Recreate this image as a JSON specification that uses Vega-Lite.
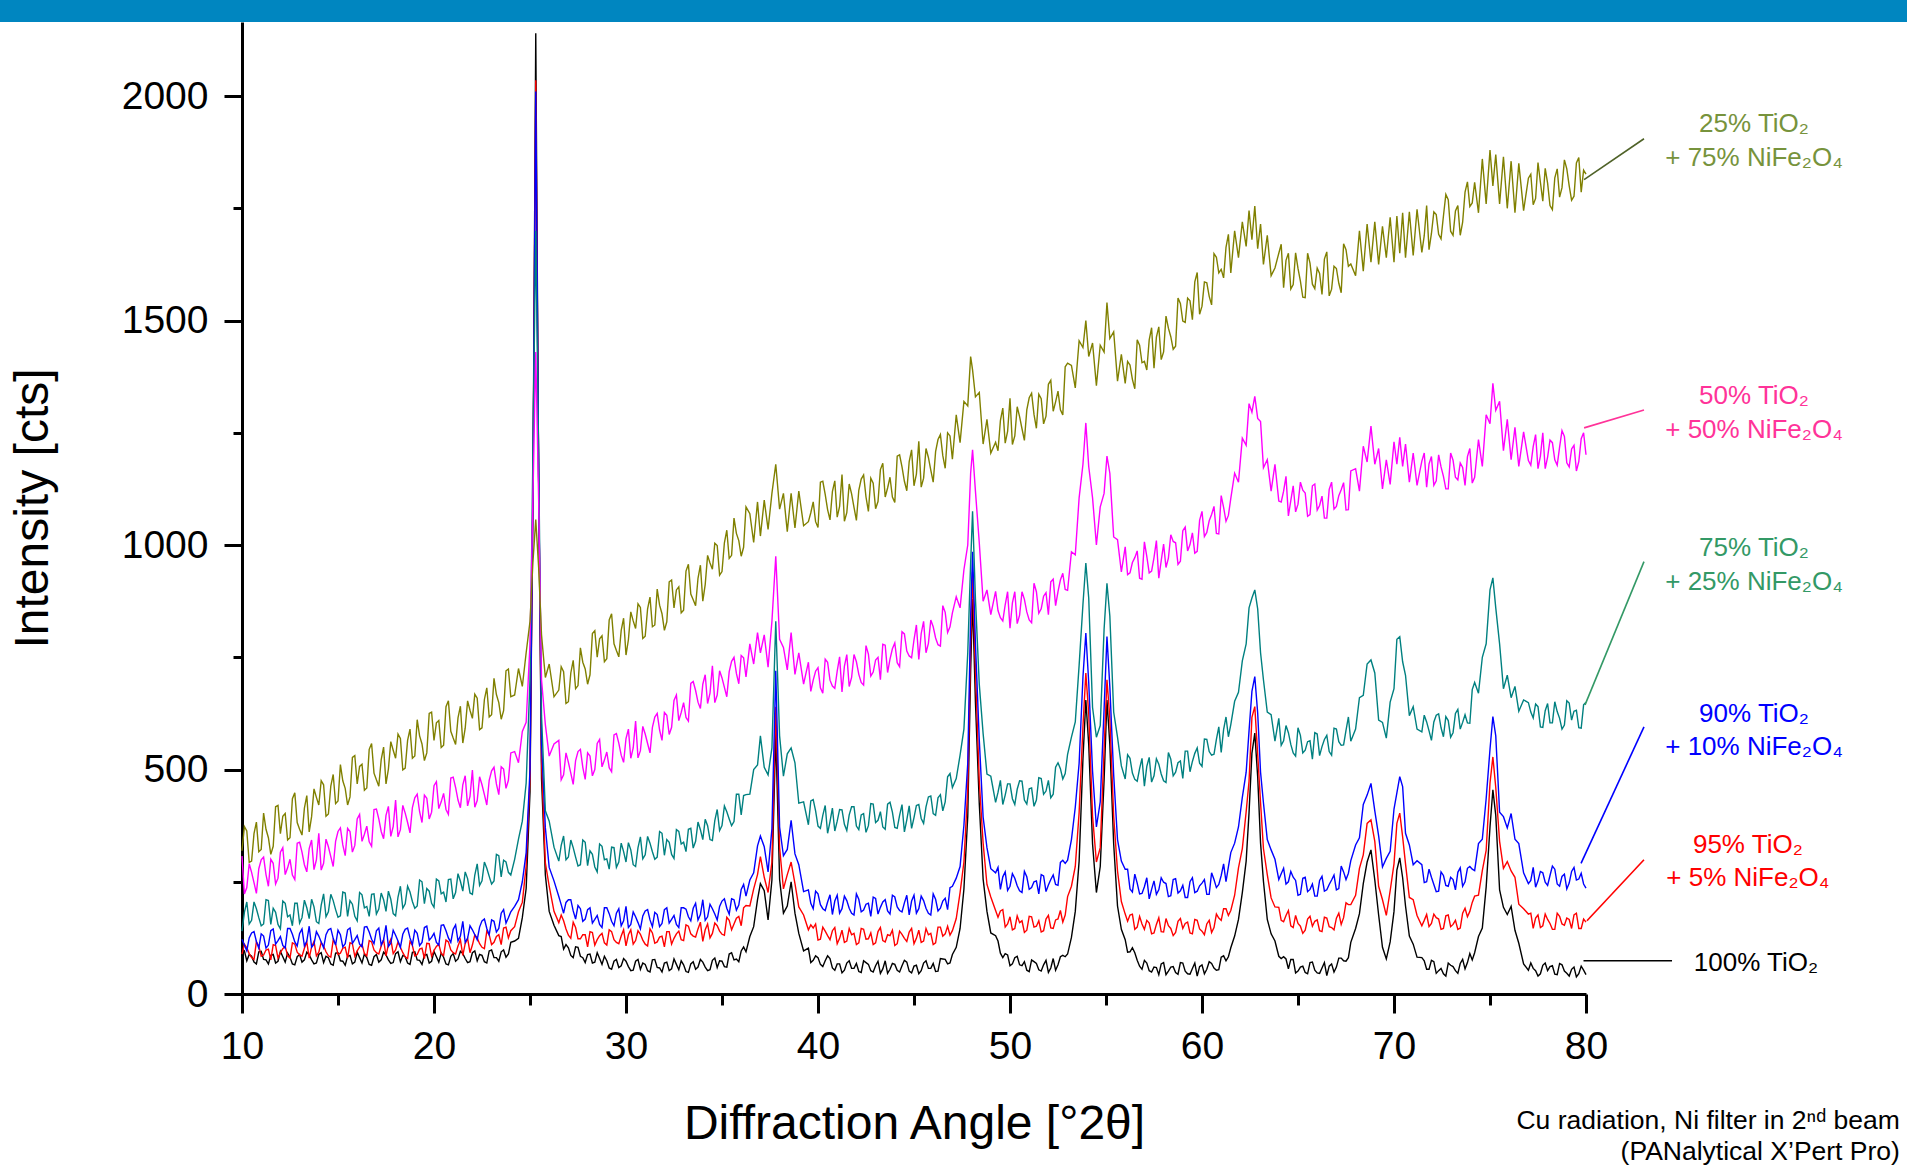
{
"$schema": "https://vega.github.io/schema/vega-lite/v6.json",
"width": 1344,
"height": 972,
"autosize": {"type": "none"},
"padding": {"left": 242, "top": 22, "right": 321, "bottom": 174},
"background": "white",
"config": {
  "view": {"stroke": null},
  "font": "Liberation Sans",
  "axis": {"domainColor": "#000000", "domainWidth": 3, "tickColor": "#000000", "tickWidth": 3, "labelFont": "Liberation Sans", "labelFontSize": 39, "labelColor": "#000000", "titleFont": "Liberation Sans", "titleFontSize": 48, "titleFontWeight": "normal", "titleColor": "#000000", "grid": false, "labelFlush": false, "labelOverlap": false}
},
"datasets": {
"xrd": [
{"x":10,"k":92,"r":89,"b":122,"t":140,"m":307,"o":319},
{"x":10.25,"k":74,"r":103,"b":96,"t":205,"m":237,"o":363},
{"x":10.5,"k":84,"r":81,"b":136,"t":164,"m":271,"o":296},
{"x":10.75,"k":67,"r":116,"b":117,"t":190,"m":224,"o":383},
{"x":11,"k":95,"r":84,"b":134,"t":152,"m":299,"o":322},
{"x":11.25,"k":76,"r":98,"b":102,"t":210,"m":266,"o":367},
{"x":11.5,"k":86,"r":76,"b":141,"t":155,"m":300,"o":311},
{"x":11.75,"k":69,"r":108,"b":111,"t":182,"m":245,"o":417},
{"x":12,"k":95,"r":92,"b":128,"t":145,"m":316,"o":357},
{"x":12.25,"k":71,"r":106,"b":102,"t":202,"m":266,"o":402},
{"x":12.5,"k":82,"r":80,"b":146,"t":176,"m":300,"o":348},
{"x":12.75,"k":65,"r":111,"b":116,"t":202,"m":255,"o":448},
{"x":13,"k":88,"r":87,"b":135,"t":158,"m":338,"o":367},
{"x":13.25,"k":76,"r":102,"b":107,"t":209,"m":288,"o":414},
{"x":13.5,"k":87,"r":80,"b":151,"t":168,"m":324,"o":361},
{"x":13.75,"k":67,"r":117,"b":111,"t":194,"m":277,"o":457},
{"x":14,"k":88,"r":93,"b":129,"t":157,"m":358,"o":421},
{"x":14.25,"k":70,"r":107,"b":103,"t":223,"m":291,"o":466},
{"x":14.5,"k":81,"r":85,"b":143,"t":183,"m":328,"o":401},
{"x":14.75,"k":64,"r":120,"b":124,"t":208,"m":284,"o":489},
{"x":15,"k":92,"r":88,"b":142,"t":171,"m":362,"o":430},
{"x":15.25,"k":73,"r":102,"b":105,"t":227,"m":332,"o":475},
{"x":15.5,"k":84,"r":80,"b":143,"t":173,"m":369,"o":421},
{"x":15.75,"k":67,"r":112,"b":113,"t":200,"m":316,"o":527},
{"x":16,"k":93,"r":96,"b":130,"t":163,"m":390,"o":468},
{"x":16.25,"k":69,"r":111,"b":105,"t":221,"m":340,"o":512},
{"x":16.5,"k":81,"r":85,"b":150,"t":195,"m":374,"o":459},
{"x":16.75,"k":64,"r":116,"b":122,"t":222,"m":329,"o":558},
{"x":17,"k":88,"r":92,"b":141,"t":178,"m":412,"o":477},
{"x":17.25,"k":76,"r":107,"b":109,"t":225,"m":362,"o":522},
{"x":17.5,"k":87,"r":85,"b":153,"t":184,"m":398,"o":468},
{"x":17.75,"k":68,"r":122,"b":113,"t":211,"m":351,"o":562},
{"x":18,"k":90,"r":98,"b":131,"t":174,"m":432,"o":525},
{"x":18.25,"k":72,"r":104,"b":104,"t":240,"m":366,"o":569},
{"x":18.5,"k":83,"r":83,"b":144,"t":201,"m":403,"o":503},
{"x":18.75,"k":66,"r":117,"b":125,"t":227,"m":359,"o":590},
{"x":19,"k":94,"r":85,"b":142,"t":191,"m":437,"o":530},
{"x":19.25,"k":75,"r":100,"b":108,"t":254,"m":406,"o":575},
{"x":19.5,"k":86,"r":79,"b":148,"t":201,"m":443,"o":520},
{"x":19.75,"k":69,"r":112,"b":120,"t":229,"m":390,"o":625},
{"x":20,"k":95,"r":97,"b":135,"t":193,"m":464,"o":565},
{"x":20.25,"k":71,"r":111,"b":109,"t":252,"m":413,"o":609},
{"x":20.5,"k":82,"r":86,"b":154,"t":227,"m":447,"o":554},
{"x":20.75,"k":65,"r":116,"b":125,"t":255,"m":400,"o":653},
{"x":21,"k":90,"r":92,"b":144,"t":212,"m":483,"o":570},
{"x":21.25,"k":78,"r":107,"b":118,"t":268,"m":432,"o":615},
{"x":21.5,"k":90,"r":86,"b":162,"t":229,"m":466,"o":559},
{"x":21.75,"k":70,"r":124,"b":124,"t":257,"m":419,"o":653},
{"x":22,"k":92,"r":109,"b":143,"t":222,"m":499,"o":614},
{"x":22.25,"k":74,"r":125,"b":121,"t":290,"m":431,"o":659},
{"x":22.5,"k":86,"r":104,"b":163,"t":252,"m":466,"o":593},
{"x":22.75,"k":69,"r":140,"b":146,"t":280,"m":421,"o":682},
{"x":23,"k":98,"r":110,"b":165,"t":245,"m":497,"o":622},
{"x":23.25,"k":81,"r":128,"b":138,"t":311,"m":468,"o":667},
{"x":23.5,"k":94,"r":110,"b":180,"t":261,"m":506,"o":612},
{"x":23.75,"k":82,"r":149,"b":158,"t":294,"m":458,"o":720},
{"x":24,"k":115,"r":141,"b":183,"t":265,"m":537,"o":662},
{"x":24.2,"k":118,"r":150,"b":195,"t":300,"m":540,"o":666},
{"x":24.4,"k":124,"r":183,"b":210,"t":345,"m":515,"o":725},
{"x":24.6,"k":170,"r":204,"b":250,"t":385,"m":585,"o":685},
{"x":24.8,"k":235,"r":285,"b":315,"t":470,"m":605,"o":760},
{"x":25,"k":450,"r":480,"b":500,"t":700,"m":780,"o":830},
{"x":25.15,"k":1100,"r":1100,"b":1100,"t":1200,"m":1100,"o":960},
{"x":25.3,"k":2140,"r":2035,"b":2010,"t":1700,"m":1430,"o":1057},
{"x":25.45,"k":1150,"r":1150,"b":1150,"t":1200,"m":1100,"o":950},
{"x":25.6,"k":480,"r":520,"b":560,"t":620,"m":700,"o":800},
{"x":25.8,"k":265,"r":292,"b":370,"t":408,"m":600,"o":705},
{"x":26,"k":184,"r":240,"b":282,"t":385,"m":530,"o":735},
{"x":26.25,"k":153,"r":184,"b":252,"t":327,"m":557,"o":662},
{"x":26.5,"k":130,"r":159,"b":217,"t":296,"m":565,"o":677},
{"x":26.75,"k":100,"r":163,"b":180,"t":352,"m":488,"o":718},
{"x":27,"k":103,"r":131,"b":210,"t":305,"m":516,"o":651},
{"x":27.25,"k":81,"r":160,"b":185,"t":326,"m":467,"o":743},
{"x":27.5,"k":104,"r":123,"b":197,"t":285,"m":540,"o":687},
{"x":27.75,"k":81,"r":132,"b":162,"t":343,"m":505,"o":739},
{"x":28,"k":88,"r":105,"b":188,"t":286,"m":537,"o":690},
{"x":28.25,"k":69,"r":137,"b":158,"t":311,"m":486,"o":803},
{"x":28.5,"k":92,"r":121,"b":175,"t":272,"m":558,"o":750},
{"x":28.75,"k":66,"r":135,"b":148,"t":329,"m":506,"o":798},
{"x":29,"k":74,"r":109,"b":192,"t":301,"m":539,"o":747},
{"x":29.25,"k":55,"r":139,"b":162,"t":327,"m":495,"o":847},
{"x":29.5,"k":77,"r":115,"b":180,"t":282,"m":580,"o":765},
{"x":29.75,"k":63,"r":129,"b":152,"t":336,"m":532,"o":810},
{"x":30,"k":73,"r":107,"b":195,"t":294,"m":569,"o":755},
{"x":30.25,"k":52,"r":143,"b":155,"t":321,"m":525,"o":851},
{"x":30.5,"k":73,"r":119,"b":172,"t":284,"m":608,"o":814},
{"x":30.75,"k":55,"r":133,"b":145,"t":350,"m":542,"o":861},
{"x":31,"k":66,"r":111,"b":185,"t":310,"m":579,"o":797},
{"x":31.25,"k":49,"r":145,"b":165,"t":336,"m":537,"o":884},
{"x":31.5,"k":77,"r":113,"b":182,"t":300,"m":617,"o":822},
{"x":31.75,"k":58,"r":127,"b":150,"t":362,"m":588,"o":866},
{"x":32,"k":69,"r":105,"b":188,"t":309,"m":627,"o":810},
{"x":32.25,"k":52,"r":139,"b":158,"t":338,"m":578,"o":918},
{"x":32.5,"k":78,"r":124,"b":175,"t":302,"m":654,"o":860},
{"x":32.75,"k":54,"r":140,"b":148,"t":362,"m":609,"o":907},
{"x":33,"k":65,"r":119,"b":192,"t":338,"m":649,"o":855},
{"x":33.25,"k":48,"r":151,"b":172,"t":367,"m":608,"o":957},
{"x":33.5,"k":72,"r":129,"b":191,"t":325,"m":696,"o":878},
{"x":33.75,"k":60,"r":145,"b":165,"t":383,"m":650,"o":926},
{"x":34,"k":71,"r":117,"b":210,"t":344,"m":690,"o":875},
{"x":34.25,"k":52,"r":156,"b":172,"t":375,"m":647,"o":977},
{"x":34.5,"k":75,"r":135,"b":190,"t":342,"m":731,"o":946},
{"x":34.75,"k":59,"r":152,"b":165,"t":411,"m":666,"o":999},
{"x":35,"k":73,"r":133,"b":207,"t":375,"m":704,"o":941},
{"x":35.25,"k":60,"r":171,"b":191,"t":406,"m":662,"o":1033},
{"x":35.5,"k":92,"r":143,"b":212,"t":375,"m":741,"o":977},
{"x":35.75,"k":78,"r":169,"b":187,"t":445,"m":714,"o":1026},
{"x":36,"k":96,"r":152,"b":233,"t":399,"m":754,"o":975},
{"x":36.25,"k":94,"r":197,"b":218,"t":444,"m":706,"o":1085},
{"x":36.45,"k":128,"r":196,"b":254,"t":445,"m":780,"o":1070},
{"x":36.65,"k":150,"r":234,"b":270,"t":500,"m":735,"o":1006},
{"x":36.85,"k":210,"r":266,"b":330,"t":510,"m":805,"o":1096},
{"x":37,"k":246,"r":306,"b":352,"t":575,"m":760,"o":1020},
{"x":37.2,"k":230,"r":260,"b":328,"t":505,"m":800,"o":1100},
{"x":37.4,"k":165,"r":226,"b":272,"t":488,"m":728,"o":1035},
{"x":37.6,"k":254,"r":294,"b":368,"t":548,"m":830,"o":1115},
{"x":37.8,"k":580,"r":640,"b":720,"t":830,"m":975,"o":1180},
{"x":38,"k":255,"r":326,"b":372,"t":575,"m":790,"o":1080},
{"x":38.2,"k":180,"r":234,"b":308,"t":485,"m":772,"o":1115},
{"x":38.4,"k":196,"r":266,"b":322,"t":535,"m":722,"o":1030},
{"x":38.6,"k":250,"r":294,"b":387,"t":548,"m":805,"o":1115},
{"x":38.8,"k":180,"r":246,"b":312,"t":515,"m":712,"o":1038},
{"x":39,"k":135,"r":194,"b":288,"t":425,"m":760,"o":1120},
{"x":39.25,"k":96,"r":176,"b":228,"t":428,"m":690,"o":1043},
{"x":39.5,"k":102,"r":143,"b":232,"t":377,"m":739,"o":1052},
{"x":39.75,"k":75,"r":147,"b":190,"t":433,"m":699,"o":1096},
{"x":40,"k":81,"r":120,"b":223,"t":374,"m":727,"o":1039},
{"x":40.25,"k":61,"r":149,"b":190,"t":398,"m":670,"o":1142},
{"x":40.5,"k":85,"r":130,"b":205,"t":358,"m":739,"o":1079},
{"x":40.75,"k":58,"r":141,"b":177,"t":414,"m":686,"o":1119},
{"x":41,"k":67,"r":112,"b":220,"t":385,"m":719,"o":1062},
{"x":41.25,"k":47,"r":142,"b":190,"t":410,"m":673,"o":1157},
{"x":41.5,"k":69,"r":118,"b":208,"t":364,"m":756,"o":1072},
{"x":41.75,"k":57,"r":132,"b":180,"t":417,"m":705,"o":1114},
{"x":42,"k":68,"r":110,"b":223,"t":374,"m":740,"o":1055},
{"x":42.25,"k":48,"r":146,"b":183,"t":399,"m":694,"o":1147},
{"x":42.5,"k":70,"r":122,"b":200,"t":360,"m":776,"o":1107},
{"x":42.75,"k":52,"r":136,"b":173,"t":424,"m":708,"o":1149},
{"x":43,"k":63,"r":114,"b":213,"t":382,"m":744,"o":1081},
{"x":43.25,"k":46,"r":148,"b":193,"t":406,"m":700,"o":1168},
{"x":43.5,"k":74,"r":116,"b":210,"t":367,"m":777,"o":1107},
{"x":43.75,"k":55,"r":130,"b":178,"t":427,"m":746,"o":1151},
{"x":44,"k":66,"r":108,"b":216,"t":371,"m":782,"o":1095},
{"x":44.25,"k":49,"r":140,"b":186,"t":398,"m":729,"o":1201},
{"x":44.5,"k":75,"r":124,"b":203,"t":361,"m":802,"o":1142},
{"x":44.75,"k":51,"r":138,"b":176,"t":419,"m":753,"o":1186},
{"x":45,"k":62,"r":112,"b":220,"t":393,"m":789,"o":1132},
{"x":45.25,"k":45,"r":142,"b":190,"t":422,"m":745,"o":1231},
{"x":45.5,"k":69,"r":118,"b":208,"t":380,"m":830,"o":1149},
{"x":45.75,"k":57,"r":132,"b":180,"t":439,"m":781,"o":1195},
{"x":46,"k":68,"r":110,"b":223,"t":402,"m":818,"o":1140},
{"x":46.25,"k":51,"r":149,"b":185,"t":437,"m":778,"o":1235},
{"x":46.5,"k":78,"r":129,"b":207,"t":408,"m":865,"o":1199},
{"x":46.75,"k":67,"r":151,"b":188,"t":484,"m":805,"o":1250},
{"x":47,"k":88,"r":141,"b":240,"t":460,"m":849,"o":1191},
{"x":47.2,"k":104,"r":168,"b":258,"t":480,"m":885,"o":1290},
{"x":47.4,"k":146,"r":226,"b":284,"t":532,"m":860,"o":1228},
{"x":47.6,"k":234,"r":294,"b":376,"t":590,"m":945,"o":1320},
{"x":47.8,"k":396,"r":456,"b":514,"t":760,"m":1000,"o":1310},
{"x":47.95,"k":720,"r":780,"b":840,"t":960,"m":1160,"o":1420},
{"x":48.05,"k":880,"r":940,"b":985,"t":1075,"m":1212,"o":1390},
{"x":48.2,"k":650,"r":720,"b":780,"t":880,"m":1120,"o":1330},
{"x":48.4,"k":424,"r":474,"b":566,"t":690,"m":1005,"o":1340},
{"x":48.6,"k":256,"r":336,"b":394,"t":580,"m":875,"o":1225},
{"x":48.8,"k":184,"r":244,"b":326,"t":490,"m":900,"o":1280},
{"x":49,"k":136,"r":216,"b":279,"t":485,"m":845,"o":1205},
{"x":49.25,"k":130,"r":186,"b":270,"t":427,"m":897,"o":1229},
{"x":49.5,"k":91,"r":185,"b":233,"t":476,"m":838,"o":1277},
{"x":49.75,"k":90,"r":149,"b":272,"t":443,"m":867,"o":1227},
{"x":50,"k":63,"r":172,"b":240,"t":468,"m":815,"o":1327},
{"x":50.25,"k":81,"r":146,"b":258,"t":422,"m":896,"o":1243},
{"x":50.5,"k":65,"r":159,"b":230,"t":475,"m":844,"o":1286},
{"x":50.75,"k":72,"r":137,"b":273,"t":432,"m":879,"o":1233},
{"x":51,"k":50,"r":173,"b":233,"t":457,"m":833,"o":1328},
{"x":51.25,"k":72,"r":149,"b":250,"t":418,"m":915,"o":1291},
{"x":51.5,"k":54,"r":163,"b":223,"t":482,"m":848,"o":1336},
{"x":51.75,"k":65,"r":141,"b":263,"t":445,"m":886,"o":1270},
{"x":52,"k":48,"r":175,"b":243,"t":476,"m":845,"o":1358},
{"x":52.25,"k":79,"r":146,"b":265,"t":445,"m":924,"o":1298},
{"x":52.5,"k":65,"r":167,"b":242,"t":515,"m":896,"o":1343},
{"x":52.75,"k":86,"r":160,"b":298,"t":479,"m":937,"o":1290},
{"x":53,"k":89,"r":217,"b":298,"t":534,"m":899,"o":1405},
{"x":53.2,"k":126,"r":240,"b":344,"t":572,"m":985,"o":1400},
{"x":53.4,"k":184,"r":284,"b":416,"t":606,"m":978,"o":1350},
{"x":53.6,"k":296,"r":404,"b":514,"t":732,"m":1105,"o":1455},
{"x":53.8,"k":524,"r":596,"b":706,"t":868,"m":1180,"o":1440},
{"x":53.95,"k":655,"r":715,"b":804,"t":960,"m":1272,"o":1500},
{"x":54.1,"k":556,"r":624,"b":694,"t":882,"m":1175,"o":1420},
{"x":54.3,"k":334,"r":396,"b":496,"t":638,"m":1105,"o":1450},
{"x":54.5,"k":226,"r":294,"b":372,"t":572,"m":1000,"o":1355},
{"x":54.7,"k":284,"r":326,"b":428,"t":598,"m":1085,"o":1445},
{"x":54.9,"k":476,"r":544,"b":634,"t":812,"m":1115,"o":1430},
{"x":55.05,"k":655,"r":700,"b":796,"t":915,"m":1198,"o":1540},
{"x":55.2,"k":556,"r":614,"b":684,"t":842,"m":1160,"o":1460},
{"x":55.4,"k":334,"r":396,"b":488,"t":628,"m":1018,"o":1475},
{"x":55.6,"k":196,"r":274,"b":344,"t":572,"m":1012,"o":1365},
{"x":55.8,"k":144,"r":206,"b":296,"t":508,"m":940,"o":1425},
{"x":56,"k":121,"r":178,"b":278,"t":479,"m":996,"o":1360},
{"x":56.25,"k":94,"r":176,"b":234,"t":525,"m":938,"o":1401},
{"x":56.5,"k":92,"r":144,"b":267,"t":478,"m":972,"o":1348},
{"x":56.75,"k":62,"r":173,"b":223,"t":502,"m":926,"o":1445},
{"x":57,"k":75,"r":144,"b":239,"t":463,"m":1007,"o":1409},
{"x":57.25,"k":52,"r":158,"b":212,"t":527,"m":938,"o":1457},
{"x":57.5,"k":60,"r":136,"b":252,"t":486,"m":972,"o":1394},
{"x":57.75,"k":43,"r":170,"b":232,"t":512,"m":926,"o":1486},
{"x":58,"k":70,"r":138,"b":249,"t":475,"m":1002,"o":1430},
{"x":58.25,"k":51,"r":152,"b":217,"t":538,"m":971,"o":1483},
{"x":58.5,"k":61,"r":130,"b":255,"t":486,"m":1008,"o":1436},
{"x":58.75,"k":44,"r":162,"b":225,"t":515,"m":957,"o":1550},
{"x":59,"k":69,"r":146,"b":242,"t":480,"m":1032,"o":1499},
{"x":59.25,"k":45,"r":160,"b":215,"t":541,"m":987,"o":1550},
{"x":59.5,"k":57,"r":134,"b":259,"t":518,"m":1027,"o":1502},
{"x":59.75,"k":40,"r":164,"b":229,"t":548,"m":986,"o":1607},
{"x":60,"k":65,"r":140,"b":247,"t":507,"m":1075,"o":1532},
{"x":60.25,"k":55,"r":156,"b":222,"t":567,"m":1028,"o":1584},
{"x":60.5,"k":68,"r":137,"b":270,"t":532,"m":1068,"o":1535},
{"x":60.75,"k":53,"r":178,"b":237,"t":567,"m":1026,"o":1641},
{"x":61,"k":82,"r":164,"b":264,"t":538,"m":1110,"o":1614},
{"x":61.25,"k":74,"r":190,"b":250,"t":617,"m":1053,"o":1663},
{"x":61.5,"k":103,"r":186,"b":315,"t":600,"m":1104,"o":1606},
{"x":61.7,"k":129,"r":220,"b":336,"t":652,"m":1160,"o":1700},
{"x":61.9,"k":166,"r":281,"b":372,"t":672,"m":1140,"o":1640},
{"x":62.1,"k":226,"r":324,"b":438,"t":742,"m":1238,"o":1720},
{"x":62.3,"k":296,"r":406,"b":494,"t":780,"m":1222,"o":1665},
{"x":62.45,"k":404,"r":474,"b":586,"t":860,"m":1315,"o":1745},
{"x":62.6,"k":536,"r":616,"b":674,"t":882,"m":1296,"o":1680},
{"x":62.75,"k":581,"r":640,"b":707,"t":900,"m":1331,"o":1755},
{"x":62.9,"k":484,"r":534,"b":626,"t":858,"m":1282,"o":1660},
{"x":63.05,"k":336,"r":426,"b":494,"t":760,"m":1275,"o":1715},
{"x":63.2,"k":251,"r":324,"b":426,"t":700,"m":1172,"o":1625},
{"x":63.4,"k":166,"r":266,"b":344,"t":628,"m":1190,"o":1690},
{"x":63.6,"k":134,"r":214,"b":321,"t":622,"m":1120,"o":1600},
{"x":63.8,"k":118,"r":194,"b":300,"t":563,"m":1180,"o":1617},
{"x":64,"k":84,"r":193,"b":255,"t":614,"m":1098,"o":1650},
{"x":64.25,"k":83,"r":161,"b":280,"t":564,"m":1120,"o":1573},
{"x":64.5,"k":56,"r":186,"b":250,"t":582,"m":1065,"o":1650},
{"x":64.75,"k":77,"r":148,"b":260,"t":537,"m":1132,"o":1580},
{"x":65,"k":51,"r":157,"b":220,"t":593,"m":1091,"o":1616},
{"x":65.25,"k":62,"r":135,"b":258,"t":537,"m":1122,"o":1552},
{"x":65.5,"k":45,"r":167,"b":228,"t":562,"m":1064,"o":1650},
{"x":65.75,"k":71,"r":151,"b":245,"t":523,"m":1132,"o":1581},
{"x":66,"k":47,"r":165,"b":218,"t":579,"m":1078,"o":1617},
{"x":66.25,"k":58,"r":139,"b":262,"t":551,"m":1109,"o":1558},
{"x":66.5,"k":41,"r":169,"b":232,"t":576,"m":1060,"o":1653},
{"x":66.75,"k":67,"r":148,"b":254,"t":532,"m":1140,"o":1570},
{"x":67,"k":60,"r":169,"b":232,"t":590,"m":1086,"o":1616},
{"x":67.25,"k":80,"r":155,"b":285,"t":554,"m":1123,"o":1562},
{"x":67.5,"k":73,"r":203,"b":255,"t":587,"m":1078,"o":1658},
{"x":67.75,"k":115,"r":199,"b":297,"t":563,"m":1165,"o":1626},
{"x":68,"k":146,"r":220,"b":332,"t":590,"m":1170,"o":1600},
{"x":68.2,"k":179,"r":280,"b":348,"t":660,"m":1120,"o":1700},
{"x":68.4,"k":246,"r":310,"b":422,"t":665,"m":1220,"o":1610},
{"x":68.6,"k":294,"r":380,"b":443,"t":735,"m":1185,"o":1715},
{"x":68.8,"k":321,"r":388,"b":469,"t":744,"m":1265,"o":1630},
{"x":69,"k":254,"r":340,"b":408,"t":715,"m":1180,"o":1720},
{"x":69.2,"k":176,"r":240,"b":352,"t":610,"m":1215,"o":1625},
{"x":69.4,"k":104,"r":210,"b":283,"t":605,"m":1125,"o":1710},
{"x":69.6,"k":78,"r":175,"b":302,"t":570,"m":1190,"o":1640},
{"x":69.8,"k":116,"r":230,"b":318,"t":650,"m":1135,"o":1730},
{"x":70,"k":184,"r":290,"b":412,"t":680,"m":1230,"o":1630},
{"x":70.15,"k":276,"r":380,"b":448,"t":790,"m":1180,"o":1733},
{"x":70.3,"k":303,"r":403,"b":484,"t":796,"m":1240,"o":1650},
{"x":70.45,"k":259,"r":350,"b":462,"t":740,"m":1175,"o":1740},
{"x":70.6,"k":196,"r":290,"b":358,"t":710,"m":1225,"o":1640},
{"x":70.8,"k":129,"r":215,"b":332,"t":620,"m":1140,"o":1742},
{"x":71,"k":111,"r":210,"b":288,"t":640,"m":1205,"o":1645},
{"x":71.2,"k":82,"r":175,"b":297,"t":590,"m":1133,"o":1748},
{"x":71.45,"k":81,"r":152,"b":288,"t":584,"m":1187,"o":1652},
{"x":71.7,"k":55,"r":177,"b":250,"t":606,"m":1129,"o":1756},
{"x":71.95,"k":75,"r":157,"b":260,"t":565,"m":1197,"o":1694},
{"x":72.2,"k":46,"r":170,"b":228,"t":621,"m":1143,"o":1736},
{"x":72.45,"k":57,"r":144,"b":272,"t":593,"m":1174,"o":1682},
{"x":72.7,"k":40,"r":174,"b":242,"t":618,"m":1125,"o":1781},
{"x":72.95,"k":64,"r":150,"b":260,"t":572,"m":1205,"o":1699},
{"x":73.2,"k":52,"r":164,"b":232,"t":625,"m":1151,"o":1744},
{"x":73.45,"k":68,"r":147,"b":281,"t":590,"m":1183,"o":1690},
{"x":73.7,"k":56,"r":191,"b":250,"t":622,"m":1133,"o":1786},
{"x":73.95,"k":90,"r":184,"b":284,"t":603,"m":1215,"o":1754},
{"x":74.2,"k":92,"r":218,"b":275,"t":694,"m":1151,"o":1808},
{"x":74.4,"k":128,"r":220,"b":335,"t":670,"m":1235,"o":1740},
{"x":74.6,"k":147,"r":275,"b":345,"t":750,"m":1175,"o":1860},
{"x":74.8,"k":238,"r":320,"b":435,"t":780,"m":1290,"o":1760},
{"x":75,"k":372,"r":470,"b":545,"t":900,"m":1270,"o":1880},
{"x":75.15,"k":455,"r":528,"b":618,"t":927,"m":1360,"o":1800},
{"x":75.3,"k":398,"r":460,"b":575,"t":860,"m":1300,"o":1870},
{"x":75.5,"k":232,"r":340,"b":405,"t":780,"m":1320,"o":1760},
{"x":75.7,"k":193,"r":280,"b":395,"t":680,"m":1210,"o":1865},
{"x":75.9,"k":177,"r":295,"b":370,"t":710,"m":1280,"o":1750},
{"x":76.1,"k":195,"r":274,"b":402,"t":660,"m":1190,"o":1855},
{"x":76.3,"k":142,"r":260,"b":345,"t":685,"m":1262,"o":1740},
{"x":76.5,"k":113,"r":200,"b":335,"t":630,"m":1175,"o":1850},
{"x":76.75,"k":67,"r":190,"b":270,"t":655,"m":1252,"o":1745},
{"x":77,"k":53,"r":178,"b":246,"t":649,"m":1188,"o":1817},
{"x":77.25,"k":57,"r":146,"b":282,"t":615,"m":1219,"o":1758},
{"x":77.5,"k":40,"r":176,"b":252,"t":640,"m":1170,"o":1852},
{"x":77.75,"k":64,"r":152,"b":270,"t":594,"m":1250,"o":1766},
{"x":78,"k":52,"r":166,"b":242,"t":647,"m":1196,"o":1806},
{"x":78.25,"k":63,"r":144,"b":285,"t":604,"m":1228,"o":1747},
{"x":78.5,"k":43,"r":180,"b":245,"t":629,"m":1178,"o":1838},
{"x":78.75,"k":65,"r":156,"b":262,"t":590,"m":1255,"o":1796},
{"x":79,"k":46,"r":169,"b":234,"t":653,"m":1183,"o":1838},
{"x":79.25,"k":55,"r":146,"b":273,"t":610,"m":1214,"o":1768},
{"x":79.5,"k":38,"r":180,"b":254,"t":632,"m":1165,"o":1851},
{"x":79.75,"k":62,"r":146,"b":269,"t":592,"m":1237,"o":1786},
{"x":80,"k":43,"r":160,"b":236,"t":650,"m":1201,"o":1826},
{"x":10.125,"k":96,"r":111,"b":109,"t":182,"m":223,"o":373},
{"x":10.375,"k":88,"r":90,"b":125,"t":156,"m":290,"o":293},
{"x":10.625,"k":71,"r":77,"b":139,"t":205,"m":248,"o":357},
{"x":10.875,"k":94,"r":107,"b":102,"t":170,"m":279,"o":317},
{"x":11.125,"k":77,"r":87,"b":129,"t":156,"m":305,"o":403},
{"x":11.375,"k":67,"r":100,"b":109,"t":208,"m":240,"o":348},
{"x":11.625,"k":88,"r":110,"b":145,"t":191,"m":291,"o":329},
{"x":11.875,"k":73,"r":80,"b":119,"t":155,"m":258,"o":420},
{"x":12.125,"k":83,"r":101,"b":108,"t":207,"m":326,"o":396},
{"x":12.375,"k":91,"r":85,"b":146,"t":172,"m":281,"o":343},
{"x":12.625,"k":67,"r":114,"b":133,"t":152,"m":265,"o":435},
{"x":12.875,"k":83,"r":93,"b":107,"t":202,"m":336,"o":382},
{"x":13.125,"k":71,"r":84,"b":145,"t":170,"m":316,"o":354},
{"x":13.375,"k":93,"r":116,"b":118,"t":192,"m":272,"o":442},
{"x":13.625,"k":76,"r":105,"b":104,"t":211,"m":343,"o":395},
{"x":13.875,"k":69,"r":85,"b":139,"t":161,"m":299,"o":438},
{"x":14.125,"k":92,"r":115,"b":116,"t":198,"m":276,"o":475},
{"x":14.375,"k":84,"r":94,"b":132,"t":172,"m":345,"o":396},
{"x":14.625,"k":67,"r":82,"b":146,"t":222,"m":306,"o":463},
{"x":14.875,"k":91,"r":111,"b":109,"t":188,"m":340,"o":424},
{"x":15.125,"k":74,"r":91,"b":132,"t":174,"m":370,"o":511},
{"x":15.375,"k":64,"r":104,"b":112,"t":225,"m":308,"o":458},
{"x":15.625,"k":86,"r":114,"b":147,"t":208,"m":362,"o":439},
{"x":15.875,"k":71,"r":84,"b":121,"t":173,"m":331,"o":531},
{"x":16.125,"k":81,"r":105,"b":111,"t":226,"m":400,"o":507},
{"x":16.375,"k":89,"r":90,"b":149,"t":192,"m":356,"o":454},
{"x":16.625,"k":66,"r":119,"b":138,"t":173,"m":339,"o":545},
{"x":16.875,"k":83,"r":98,"b":112,"t":223,"m":411,"o":492},
{"x":17.125,"k":71,"r":89,"b":147,"t":189,"m":390,"o":463},
{"x":17.375,"k":93,"r":121,"b":121,"t":210,"m":346,"o":550},
{"x":17.625,"k":76,"r":110,"b":106,"t":229,"m":418,"o":501},
{"x":17.875,"k":70,"r":90,"b":142,"t":179,"m":373,"o":543},
{"x":18.125,"k":94,"r":116,"b":118,"t":216,"m":350,"o":579},
{"x":18.375,"k":86,"r":92,"b":133,"t":191,"m":420,"o":499},
{"x":18.625,"k":69,"r":79,"b":147,"t":240,"m":382,"o":565},
{"x":18.875,"k":93,"r":108,"b":110,"t":206,"m":415,"o":525},
{"x":19.125,"k":76,"r":88,"b":135,"t":196,"m":445,"o":611},
{"x":19.375,"k":66,"r":102,"b":115,"t":250,"m":382,"o":557},
{"x":19.625,"k":88,"r":113,"b":151,"t":235,"m":436,"o":537},
{"x":19.875,"k":73,"r":84,"b":126,"t":202,"m":405,"o":628},
{"x":20.125,"k":83,"r":106,"b":115,"t":256,"m":473,"o":604},
{"x":20.375,"k":91,"r":90,"b":153,"t":223,"m":428,"o":549},
{"x":20.625,"k":67,"r":120,"b":141,"t":205,"m":411,"o":640},
{"x":20.875,"k":84,"r":98,"b":115,"t":256,"m":481,"o":585},
{"x":21.125,"k":73,"r":89,"b":154,"t":226,"m":460,"o":556},
{"x":21.375,"k":95,"r":121,"b":129,"t":251,"m":415,"o":641},
{"x":21.625,"k":79,"r":112,"b":115,"t":272,"m":486,"o":592},
{"x":21.875,"k":72,"r":92,"b":152,"t":225,"m":440,"o":632},
{"x":22.125,"k":96,"r":132,"b":132,"t":265,"m":416,"o":668},
{"x":22.375,"k":88,"r":112,"b":149,"t":242,"m":484,"o":589},
{"x":22.625,"k":72,"r":101,"b":167,"t":294,"m":444,"o":656},
{"x":22.875,"k":96,"r":132,"b":132,"t":262,"m":476,"o":617},
{"x":23.125,"k":81,"r":115,"b":162,"t":252,"m":505,"o":703},
{"x":23.375,"k":73,"r":132,"b":146,"t":308,"m":444,"o":649},
{"x":23.625,"k":98,"r":147,"b":188,"t":298,"m":501,"o":631},
{"x":23.875,"k":89,"r":125,"b":170,"t":271,"m":476,"o":724},
{"x":26.625,"k":128,"r":176,"b":199,"t":331,"m":477,"o":729},
{"x":26.875,"k":110,"r":145,"b":204,"t":299,"m":537,"o":647},
{"x":27.125,"k":86,"r":124,"b":210,"t":343,"m":492,"o":715},
{"x":27.375,"k":105,"r":148,"b":167,"t":305,"m":520,"o":680},
{"x":27.625,"k":84,"r":123,"b":190,"t":288,"m":545,"o":771},
{"x":27.875,"k":70,"r":132,"b":167,"t":338,"m":478,"o":724},
{"x":28.125,"k":89,"r":139,"b":192,"t":319,"m":530,"o":711},
{"x":28.375,"k":71,"r":109,"b":166,"t":283,"m":500,"o":809},
{"x":28.625,"k":79,"r":130,"b":155,"t":334,"m":567,"o":791},
{"x":28.875,"k":84,"r":114,"b":192,"t":299,"m":521,"o":740},
{"x":29.125,"k":58,"r":143,"b":179,"t":278,"m":504,"o":833},
{"x":29.375,"k":73,"r":121,"b":152,"t":326,"m":577,"o":780},
{"x":29.625,"k":59,"r":112,"b":190,"t":294,"m":559,"o":751},
{"x":29.875,"k":79,"r":143,"b":163,"t":317,"m":516,"o":837},
{"x":30.125,"k":61,"r":132,"b":148,"t":337,"m":590,"o":789},
{"x":30.375,"k":53,"r":111,"b":183,"t":288,"m":548,"o":831},
{"x":30.625,"k":77,"r":141,"b":159,"t":326,"m":526,"o":869},
{"x":30.875,"k":69,"r":120,"b":174,"t":301,"m":596,"o":792},
{"x":31.125,"k":52,"r":107,"b":188,"t":351,"m":558,"o":858},
{"x":31.375,"k":76,"r":136,"b":150,"t":317,"m":594,"o":818},
{"x":31.625,"k":59,"r":116,"b":177,"t":305,"m":625,"o":902},
{"x":31.875,"k":49,"r":129,"b":157,"t":358,"m":565,"o":847},
{"x":32.125,"k":71,"r":139,"b":192,"t":344,"m":621,"o":829},
{"x":32.375,"k":56,"r":111,"b":166,"t":311,"m":594,"o":922},
{"x":32.625,"k":66,"r":134,"b":155,"t":366,"m":666,"o":900},
{"x":32.875,"k":74,"r":121,"b":192,"t":334,"m":627,"o":849},
{"x":33.125,"k":50,"r":154,"b":189,"t":317,"m":616,"o":942},
{"x":33.375,"k":67,"r":134,"b":163,"t":369,"m":692,"o":891},
{"x":33.625,"k":55,"r":127,"b":202,"t":340,"m":676,"o":865},
{"x":33.875,"k":77,"r":160,"b":177,"t":366,"m":636,"o":955},
{"x":34.125,"k":60,"r":143,"b":164,"t":389,"m":711,"o":912},
{"x":34.375,"k":54,"r":125,"b":200,"t":344,"m":670,"o":960},
{"x":34.625,"k":80,"r":158,"b":178,"t":386,"m":649,"o":1004},
{"x":34.875,"k":74,"r":140,"b":195,"t":364,"m":720,"o":933},
{"x":35.125,"k":61,"r":131,"b":212,"t":419,"m":683,"o":1005},
{"x":35.375,"k":89,"r":164,"b":178,"t":390,"m":718,"o":970},
{"x":35.625,"k":76,"r":156,"b":210,"t":384,"m":750,"o":1060},
{"x":35.875,"k":72,"r":173,"b":198,"t":445,"m":691,"o":1010},
{"x":36.125,"k":105,"r":192,"b":244,"t":442,"m":749,"o":995},
{"x":39.625,"k":70,"r":154,"b":202,"t":430,"m":674,"o":1072},
{"x":39.875,"k":85,"r":156,"b":229,"t":408,"m":719,"o":1052},
{"x":40.125,"k":66,"r":122,"b":199,"t":369,"m":682,"o":1140},
{"x":40.375,"k":74,"r":140,"b":186,"t":420,"m":746,"o":1113},
{"x":40.625,"k":79,"r":121,"b":221,"t":384,"m":699,"o":1056},
{"x":40.875,"k":53,"r":148,"b":207,"t":363,"m":681,"o":1143},
{"x":41.125,"k":67,"r":124,"b":180,"t":411,"m":751,"o":1086},
{"x":41.375,"k":53,"r":115,"b":218,"t":378,"m":730,"o":1053},
{"x":41.625,"k":74,"r":146,"b":191,"t":399,"m":685,"o":1136},
{"x":41.875,"k":57,"r":135,"b":176,"t":417,"m":756,"o":1084},
{"x":42.125,"k":50,"r":114,"b":211,"t":366,"m":712,"o":1122},
{"x":42.375,"k":74,"r":144,"b":187,"t":402,"m":688,"o":1156},
{"x":42.625,"k":66,"r":123,"b":202,"t":375,"m":757,"o":1075},
{"x":42.875,"k":49,"r":110,"b":216,"t":423,"m":717,"o":1138},
{"x":43.125,"k":73,"r":139,"b":178,"t":387,"m":750,"o":1097},
{"x":43.375,"k":56,"r":119,"b":205,"t":372,"m":779,"o":1182},
{"x":43.625,"k":46,"r":132,"b":185,"t":423,"m":716,"o":1127},
{"x":43.875,"k":68,"r":142,"b":220,"t":405,"m":769,"o":1107},
{"x":44.125,"k":53,"r":112,"b":194,"t":369,"m":738,"o":1198},
{"x":44.375,"k":63,"r":133,"b":183,"t":422,"m":807,"o":1174},
{"x":44.625,"k":71,"r":117,"b":220,"t":388,"m":764,"o":1121},
{"x":44.875,"k":47,"r":146,"b":207,"t":369,"m":749,"o":1212},
{"x":45.125,"k":64,"r":124,"b":180,"t":420,"m":822,"o":1158},
{"x":45.375,"k":52,"r":115,"b":218,"t":391,"m":803,"o":1129},
{"x":45.625,"k":74,"r":146,"b":191,"t":417,"m":760,"o":1215},
{"x":45.875,"k":57,"r":135,"b":176,"t":441,"m":833,"o":1167},
{"x":46.125,"k":50,"r":114,"b":211,"t":398,"m":793,"o":1208},
{"x":46.375,"k":79,"r":149,"b":191,"t":444,"m":775,"o":1246},
{"x":46.625,"k":77,"r":134,"b":213,"t":428,"m":850,"o":1171},
{"x":46.875,"k":69,"r":131,"b":237,"t":491,"m":818,"o":1243},
{"x":49.375,"k":118,"r":171,"b":282,"t":449,"m":854,"o":1210},
{"x":49.625,"k":81,"r":188,"b":261,"t":422,"m":831,"o":1305},
{"x":49.875,"k":87,"r":156,"b":231,"t":468,"m":896,"o":1253},
{"x":50.125,"k":67,"r":143,"b":268,"t":435,"m":871,"o":1224},
{"x":50.375,"k":84,"r":174,"b":241,"t":456,"m":825,"o":1308},
{"x":50.625,"k":63,"r":163,"b":226,"t":474,"m":896,"o":1259},
{"x":50.875,"k":53,"r":142,"b":261,"t":423,"m":851,"o":1301},
{"x":51.125,"k":76,"r":172,"b":237,"t":459,"m":827,"o":1338},
{"x":51.375,"k":68,"r":151,"b":252,"t":432,"m":896,"o":1260},
{"x":51.625,"k":51,"r":138,"b":266,"t":480,"m":858,"o":1326},
{"x":51.875,"k":75,"r":167,"b":228,"t":452,"m":894,"o":1287},
{"x":52.125,"k":58,"r":147,"b":255,"t":437,"m":918,"o":1367},
{"x":52.375,"k":53,"r":165,"b":244,"t":505,"m":865,"o":1319},
{"x":52.625,"k":83,"r":186,"b":293,"t":502,"m":922,"o":1301},
{"x":52.875,"k":83,"r":176,"b":291,"t":491,"m":901,"o":1397},
{"x":56.125,"k":93,"r":162,"b":278,"t":533,"m":934,"o":1409},
{"x":56.375,"k":103,"r":178,"b":227,"t":492,"m":961,"o":1369},
{"x":56.625,"k":75,"r":149,"b":247,"t":474,"m":987,"o":1457},
{"x":56.875,"k":55,"r":156,"b":224,"t":525,"m":924,"o":1406},
{"x":57.125,"k":69,"r":164,"b":259,"t":507,"m":975,"o":1390},
{"x":57.375,"k":49,"r":134,"b":233,"t":472,"m":942,"o":1484},
{"x":57.625,"k":59,"r":155,"b":222,"t":524,"m":1010,"o":1463},
{"x":57.875,"k":67,"r":139,"b":259,"t":490,"m":965,"o":1413},
{"x":58.125,"k":43,"r":168,"b":246,"t":471,"m":950,"o":1510},
{"x":58.375,"k":60,"r":146,"b":219,"t":523,"m":1023,"o":1464},
{"x":58.625,"k":48,"r":137,"b":257,"t":494,"m":1005,"o":1443},
{"x":58.875,"k":70,"r":168,"b":230,"t":519,"m":964,"o":1538},
{"x":59.125,"k":51,"r":157,"b":215,"t":541,"m":1040,"o":1496},
{"x":59.375,"k":44,"r":136,"b":250,"t":495,"m":1001,"o":1544},
{"x":59.625,"k":69,"r":166,"b":226,"t":536,"m":982,"o":1586},
{"x":59.875,"k":61,"r":145,"b":241,"t":514,"m":1055,"o":1514},
{"x":60.125,"k":45,"r":132,"b":255,"t":568,"m":1019,"o":1586},
{"x":60.375,"k":72,"r":164,"b":222,"t":540,"m":1054,"o":1554},
{"x":60.625,"k":58,"r":148,"b":255,"t":534,"m":1086,"o":1649},
{"x":60.875,"k":54,"r":169,"b":244,"t":595,"m":1025,"o":1606},
{"x":61.125,"k":85,"r":190,"b":290,"t":589,"m":1084,"o":1595},
{"x":61.375,"k":83,"r":175,"b":283,"t":573,"m":1066,"o":1692},
{"x":64.125,"k":79,"r":164,"b":268,"t":554,"m":1096,"o":1670},
{"x":64.375,"k":78,"r":175,"b":245,"t":598,"m":1153,"o":1634},
{"x":64.625,"k":77,"r":152,"b":273,"t":556,"m":1099,"o":1570},
{"x":64.875,"k":47,"r":175,"b":253,"t":530,"m":1074,"o":1651},
{"x":65.125,"k":60,"r":151,"b":222,"t":576,"m":1140,"o":1588},
{"x":65.375,"k":48,"r":142,"b":260,"t":543,"m":1116,"o":1551},
{"x":65.625,"k":70,"r":173,"b":233,"t":564,"m":1068,"o":1628},
{"x":65.875,"k":53,"r":162,"b":218,"t":582,"m":1136,"o":1571},
{"x":66.125,"k":46,"r":141,"b":253,"t":531,"m":1088,"o":1605},
{"x":66.375,"k":70,"r":171,"b":229,"t":567,"m":1060,"o":1637},
{"x":66.625,"k":62,"r":150,"b":244,"t":540,"m":1124,"o":1555},
{"x":66.875,"k":49,"r":143,"b":265,"t":592,"m":1080,"o":1621},
{"x":67.125,"k":80,"r":180,"b":235,"t":562,"m":1110,"o":1583},
{"x":67.375,"k":74,"r":170,"b":272,"t":555,"m":1139,"o":1671},
{"x":67.625,"k":81,"r":199,"b":269,"t":617,"m":1079,"o":1621},
{"x":71.575,"k":74,"r":164,"b":248,"t":621,"m":1205,"o":1689},
{"x":71.825,"k":55,"r":150,"b":278,"t":586,"m":1181,"o":1658},
{"x":72.075,"k":72,"r":178,"b":244,"t":606,"m":1133,"o":1742},
{"x":72.325,"k":52,"r":167,"b":229,"t":624,"m":1201,"o":1692},
{"x":72.575,"k":45,"r":146,"b":264,"t":573,"m":1153,"o":1733},
{"x":72.825,"k":69,"r":176,"b":240,"t":609,"m":1125,"o":1769},
{"x":73.075,"k":61,"r":155,"b":255,"t":582,"m":1189,"o":1690},
{"x":73.325,"k":46,"r":144,"b":271,"t":634,"m":1145,"o":1756},
{"x":73.575,"k":77,"r":180,"b":240,"t":605,"m":1173,"o":1719},
{"x":73.825,"k":70,"r":172,"b":280,"t":604,"m":1197,"o":1809},
{"x":74.075,"k":76,"r":204,"b":278,"t":678,"m":1138,"o":1762},
{"x":77.125,"k":69,"r":180,"b":253,"t":628,"m":1178,"o":1826},
{"x":77.375,"k":52,"r":169,"b":238,"t":646,"m":1246,"o":1772},
{"x":77.625,"k":45,"r":148,"b":273,"t":595,"m":1198,"o":1808},
{"x":77.875,"k":69,"r":178,"b":249,"t":631,"m":1170,"o":1839},
{"x":78.125,"k":61,"r":157,"b":264,"t":604,"m":1234,"o":1756},
{"x":78.375,"k":44,"r":144,"b":278,"t":651,"m":1190,"o":1818},
{"x":78.625,"k":68,"r":173,"b":240,"t":614,"m":1218,"o":1775},
{"x":78.875,"k":51,"r":153,"b":267,"t":599,"m":1242,"o":1858},
{"x":79.125,"k":40,"r":166,"b":247,"t":648,"m":1174,"o":1800},
{"x":79.375,"k":60,"r":176,"b":282,"t":630,"m":1222,"o":1777},
{"x":79.625,"k":45,"r":146,"b":256,"t":593,"m":1186,"o":1863},
{"x":79.875,"k":53,"r":167,"b":245,"t":644,"m":1250,"o":1835}
],
"leaders": [
{"s":"o","x":79.9,"y":1814,"x2":83.02,"y2":1905},
{"s":"m","x":79.9,"y":1261,"x2":83.02,"y2":1301},
{"s":"t","x":79.95,"y":644,"x2":83.02,"y2":963},
{"s":"b","x":79.74,"y":291,"x2":83.02,"y2":595},
{"s":"r","x":80.05,"y":163,"x2":83.02,"y2":299},
{"s":"k","x":79.87,"y":74,"x2":84.48,"y2":74}
],
"labels": [
{"s":"o","x":88.75,"y":1938,"t":"25% TiO₂"},
{"s":"o","x":88.75,"y":1863,"t":"+ 75% NiFe₂O₄"},
{"s":"m","x":88.75,"y":1331,"t":"50% TiO₂"},
{"s":"m","x":88.75,"y":1256,"t":"+ 50% NiFe₂O₄"},
{"s":"t","x":88.75,"y":993,"t":"75% TiO₂"},
{"s":"t","x":88.75,"y":917,"t":"+ 25% NiFe₂O₄"},
{"s":"b","x":88.75,"y":624,"t":"90% TiO₂"},
{"s":"b","x":88.75,"y":551,"t":"+ 10% NiFe₂O₄"},
{"s":"r","x":88.43,"y":332,"t":"95% TiO₂"},
{"s":"r","x":88.43,"y":258,"t":"+ 5% NiFe₂O₄"},
{"s":"k","x":88.85,"y":69,"t":"100% TiO₂"}
],
"notes": [
{"x":96.35,"y":-283,"t":"Cu radiation, Ni filter in 2ⁿᵈ beam"},
{"x":96.35,"y":-352,"t":"(PANalytical X’Pert Pro)"}
],
"bar": [{"x":-5,"x2":100,"y":2165,"y2":2300}]
},
"layer": [
{
  "data": {"name": "xrd"},
  "transform": [{"fold": ["k","r","b","t","m","o"], "as": ["s","v"]}],
  "mark": {"type": "line", "strokeWidth": 1.4},
  "encoding": {
    "x": {"field": "x", "type": "quantitative", "scale": {"domain": [10, 80], "nice": false, "zero": false},
      "axis": {"title": "Diffraction Angle [°2θ]", "values": [10,15,20,25,30,35,40,45,50,55,60,65,70,75,80], "format": "d",
        "labelExpr": "datum.value % 10 === 0 ? datum.label : ''",
        "tickSize": {"condition": {"test": "datum.value % 10 === 0", "value": 19}, "value": 11},
        "labelPadding": 14, "titlePadding": 34}},
    "y": {"field": "v", "type": "quantitative", "scale": {"domain": [0, 2165], "nice": false, "zero": false},
      "axis": {"title": "Intensity [cts]", "values": [0,250,500,750,1000,1250,1500,1750,2000], "format": "d",
        "labelExpr": "datum.value % 500 === 0 ? datum.label : ''",
        "tickSize": {"condition": {"test": "datum.value % 500 === 0", "value": 18}, "value": 9},
        "labelPadding": 16, "titlePadding": 64}},
    "color": {"field": "s", "type": "nominal", "legend": null,
      "scale": {"domain": ["k","r","b","t","m","o"], "range": ["#000000","#FF0000","#0000FF","#008080","#FF00FF","#808000"]}}
  }
},
{
  "data": {"name": "bar"},
  "mark": {"type": "rect", "fill": "#0086C0"},
  "encoding": {
    "x": {"field": "x", "type": "quantitative", "scale": {"domain": [10, 80], "nice": false, "zero": false}},
    "x2": {"field": "x2"},
    "y": {"field": "y", "type": "quantitative", "scale": {"domain": [0, 2165], "nice": false, "zero": false}},
    "y2": {"field": "y2"}
  }
},
{
  "data": {"name": "leaders"},
  "mark": {"type": "rule", "strokeWidth": 1.6},
  "encoding": {
    "x": {"field": "x", "type": "quantitative", "scale": {"domain": [10, 80], "nice": false, "zero": false}},
    "x2": {"field": "x2"},
    "y": {"field": "y", "type": "quantitative", "scale": {"domain": [0, 2165], "nice": false, "zero": false}},
    "y2": {"field": "y2"},
    "color": {"field": "s", "type": "nominal", "legend": null,
      "scale": {"domain": ["k","r","b","t","m","o"], "range": ["#000000","#FF0000","#0000FF","#339966","#FF3399","#4F6228"]}}
  }
},
{
  "data": {"name": "labels"},
  "mark": {"type": "text", "fontSize": 26, "align": "center", "baseline": "middle", "font": "Liberation Sans"},
  "encoding": {
    "x": {"field": "x", "type": "quantitative", "scale": {"domain": [10, 80], "nice": false, "zero": false}},
    "y": {"field": "y", "type": "quantitative", "scale": {"domain": [0, 2165], "nice": false, "zero": false}},
    "text": {"field": "t"},
    "color": {"field": "s", "type": "nominal", "legend": null,
      "scale": {"domain": ["k","r","b","t","m","o"], "range": ["#000000","#FF0000","#0000FF","#339966","#FF3399","#77933C"]}}
  }
},
{
  "data": {"name": "notes"},
  "mark": {"type": "text", "fontSize": 26.5, "align": "right", "baseline": "middle", "font": "Liberation Sans", "color": "#000000"},
  "encoding": {
    "x": {"field": "x", "type": "quantitative", "scale": {"domain": [10, 80], "nice": false, "zero": false}},
    "y": {"field": "y", "type": "quantitative", "scale": {"domain": [0, 2165], "nice": false, "zero": false}},
    "text": {"field": "t"}
  }
}
],
"resolve": {"scale": {"color": "independent"}}
}
